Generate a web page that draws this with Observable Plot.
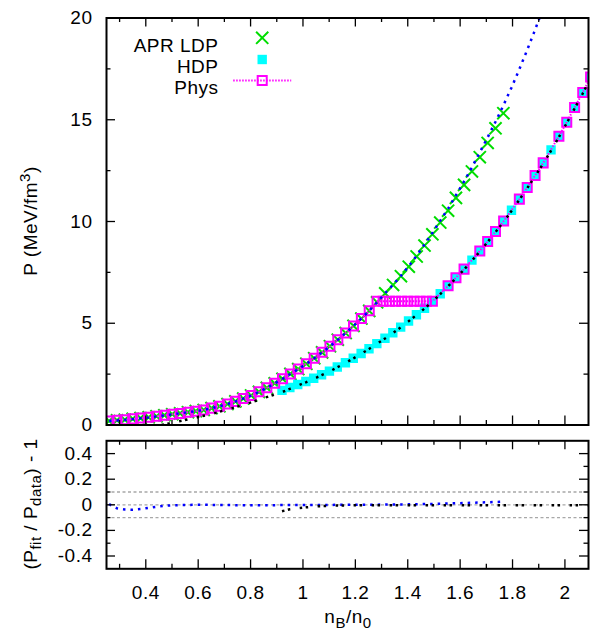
<!DOCTYPE html>
<html><head><meta charset="utf-8">
<script src="https://cdn.jsdelivr.net/npm/d3@7"></script>
<script src="https://cdn.jsdelivr.net/npm/@observablehq/plot@0.6"></script>
<style>
body{margin:0;background:#fff;}
#chart{position:relative;width:590px;height:633px;overflow:hidden;background:#fff;}
#chart svg{position:absolute;left:0;}
</style></head><body><div id="chart"></div>
<script>
// ---------- data ----------
const ldpN = [0.260,0.290,0.320,0.350,0.380,0.411,0.441,0.471,0.501,0.531,0.561,0.591,0.621,0.651,0.681,0.712,0.742,0.772,0.802,0.832,0.862,0.892,0.922,0.952,0.982,1.013,1.043,1.073,1.103,1.133,1.163,1.193,1.223,1.253,1.283,1.314,1.344,1.374,1.404,1.434,1.464,1.494,1.524,1.554,1.584,1.615,1.645,1.675,1.705,1.735,1.765];
const ldpP = [0.20,0.23,0.26,0.30,0.34,0.38,0.43,0.48,0.53,0.57,0.63,0.68,0.74,0.83,0.92,1.03,1.16,1.30,1.45,1.63,1.83,2.05,2.27,2.51,2.75,3.01,3.28,3.57,3.87,4.19,4.52,4.87,5.23,5.61,6.03,6.47,6.88,7.31,7.78,8.28,8.82,9.37,9.95,10.53,11.16,11.80,12.46,13.16,13.86,14.58,15.32];

const hdpN = [0.920,0.950,0.980,1.011,1.041,1.071,1.101,1.131,1.162,1.192,1.222,1.252,1.282,1.313,1.343,1.373,1.403,1.433,1.464,1.494,1.524,1.554,1.584,1.615,1.645,1.675,1.705,1.735,1.766,1.796,1.826,1.856,1.886,1.917,1.947,1.977,2.007,2.037,2.068,2.098];
const hdpP = [1.70,1.84,1.99,2.14,2.30,2.47,2.65,2.85,3.06,3.28,3.51,3.75,4.00,4.26,4.53,4.81,5.11,5.42,5.74,6.08,6.45,6.84,7.24,7.66,8.10,8.55,9.02,9.51,10.02,10.55,11.10,11.67,12.26,12.88,13.52,14.19,14.88,15.60,16.34,17.10];

const physN = [0.260,0.290,0.320,0.350,0.380,0.411,0.441,0.471,0.501,0.531,0.561,0.591,0.621,0.651,0.681,0.712,0.742,0.772,0.802,0.832,0.862,0.892,0.922,0.952,0.982,1.013,1.043,1.073,1.103,1.133,1.163,1.193,1.223,1.253,
  1.283,1.306,1.330,1.353,1.377,1.400,1.424,1.447,1.471,1.494,
  1.554,1.584,1.615,1.675,1.705,1.735,1.766,1.826,1.856,1.886,1.917,1.977,2.007,2.037,2.068,2.098];
const physP = [0.20,0.23,0.26,0.30,0.34,0.38,0.43,0.48,0.53,0.57,0.63,0.68,0.74,0.83,0.92,1.03,1.16,1.30,1.45,1.63,1.83,2.05,2.27,2.51,2.75,3.01,3.28,3.57,3.87,4.19,4.52,4.87,5.23,5.61,
  6.08,6.08,6.08,6.08,6.08,6.08,6.08,6.08,6.08,6.08,
  6.84,7.24,7.66,8.55,9.02,9.51,10.02,11.10,11.67,12.26,12.88,14.19,14.88,15.60,16.34,17.10];

const ldpFitN = [0.260,0.290,0.320,0.350,0.380,0.411,0.441,0.471,0.501,0.531,0.561,0.591,0.621,0.651,0.681,0.712,0.742,0.772,0.802,0.832,0.862,0.892,0.922,0.952,0.982,1.013,1.043,1.073,1.103,1.133,1.163,1.193,1.223,1.253,1.283,1.314,1.344,1.374,1.404,1.434,1.464,1.494,1.524,1.554,1.584,1.615,1.645,1.675,1.705,1.735,1.765,1.795,1.825,1.855,1.880,1.903];
const ldpFitP = [0.201,0.224,0.250,0.288,0.329,0.371,0.424,0.476,0.528,0.569,0.630,0.680,0.740,0.829,0.918,1.028,1.157,1.296,1.446,1.625,1.825,2.044,2.265,2.505,2.745,3.004,3.277,3.566,3.866,4.190,4.520,4.870,5.235,5.616,6.036,6.483,6.894,7.332,7.811,8.321,8.873,9.436,10.040,10.635,11.294,11.965,12.659,13.397,14.137,14.901,15.703,16.55,17.45,18.40,19.22,20.00];

const hdpFitN = [0.460,0.490,0.520,0.550,0.580,0.610,0.640,0.670,0.700,0.730,0.760,0.790,0.820,0.850,0.880,0.920,0.950,0.980,1.011,1.041,1.071,1.101,1.131,1.162,1.192,1.222,1.252,1.282,1.313,1.343,1.373,1.403,1.433,1.464,1.494,1.524,1.554,1.584,1.615,1.645,1.675,1.705,1.735,1.766,1.796,1.826,1.856,1.886,1.917,1.947,1.977,2.007,2.037,2.068,2.098];
const hdpFitP = [0.00,0.08,0.16,0.24,0.33,0.42,0.51,0.61,0.72,0.83,0.94,1.06,1.19,1.32,1.45,1.615,1.776,1.936,2.097,2.268,2.445,2.629,2.833,3.045,3.267,3.496,3.735,3.988,4.247,4.516,4.796,5.095,5.404,5.723,6.062,6.431,6.819,7.218,7.637,8.076,8.524,8.993,9.481,9.990,10.518,11.067,11.635,12.223,12.841,13.479,14.147,14.835,15.553,16.291,17.049];

const ldpRes = [0.005,-0.028,-0.037,-0.039,-0.033,-0.024,-0.015,-0.008,-0.004,-0.002,-0.001,0.000,0.000,-0.001,-0.002,-0.002,-0.003,-0.003,-0.003,-0.003,-0.003,-0.003,-0.002,-0.002,-0.002,-0.002,-0.001,-0.001,-0.001,0.000,0.000,0.000,0.001,0.001,0.001,0.002,0.002,0.003,0.004,0.005,0.006,0.007,0.009,0.010,0.012,0.014,0.016,0.018,0.020,0.022,0.025];
const hdpRes = [-0.050,-0.035,-0.027,-0.020,-0.014,-0.010,-0.008,-0.006,-0.005,-0.004,-0.004,-0.004,-0.003,-0.004,-0.003,-0.003,-0.004,-0.003,-0.003,-0.004,-0.003,-0.003,-0.004,-0.003,-0.003,-0.004,-0.003,-0.003,-0.004,-0.003,-0.003,-0.004,-0.003,-0.003,-0.004,-0.003,-0.003,-0.004,-0.003,-0.003];

const refLines = [-0.1, 0, 0.1];

const xMajor = [0.4,0.6,0.8,1,1.2,1.4,1.6,1.8,2];
const xMinor = [0.3,0.5,0.7,0.9,1.1,1.3,1.5,1.7,1.9];
const pMajor = [0,5,10,15,20];
const pMinor = [2.5,7.5,12.5,17.5];
const rMajor = [-0.4,-0.2,0,0.2,0.4];
const rMinor = [-0.3,-0.1,0.1,0.3];

const legendLabels = ["APR LDP","HDP","Phys"];

// ---------- build rows ----------
const zip = (a, b, k) => a.map((n, i) => ({n, [k]: b[i]}));
const ldp = zip(ldpN, ldpP, "p");
const hdp = zip(hdpN, hdpP, "p");
const phys = zip(physN, physP, "p");
const ldpFit = zip(ldpFitN, ldpFitP, "p");
const hdpFit = zip(hdpFitN, hdpFitP, "p");
const ldpR = zip(ldpN, ldpRes, "r");
const hdpR = zip(hdpN, hdpRes, "r");

const GREEN = "#00dd00", CYAN = "#00ffff", MAG = "#ff00ff", BLUE = "#0000ff";
const FONT = "'Liberation Sans', Arial, Helvetica, sans-serif";
const style = {fontFamily: FONT, fontSize: "19px", letterSpacing: "0.5px", background: "transparent", color: "#000"};

const W = 590, ML = 106, MR = 2;
const plotW = W - ML - MR;

const blueDots = {stroke: BLUE, strokeWidth: 2.5, strokeDasharray: "2.5,5", strokeLinecap: "butt", strokeLinejoin: "miter"};
const blackDots = {stroke: "#000", strokeWidth: 2.5, strokeDasharray: "2.5,3.5,2.5,9.5", strokeLinecap: "butt", strokeLinejoin: "miter"};
const magDots = {stroke: MAG, strokeWidth: 2, strokeDasharray: "1.5,1.5", strokeLinecap: "butt", strokeLinejoin: "miter"};

function frameTicks(xMaj, xMin, yMaj, yMin, plotH) {
  const maj = 9, min = 4.5, sw = 1.3;
  const o = {stroke: "#000", strokeWidth: sw};
  return [
    Plot.tickX(xMaj, {...o, x: d => d, insetTop: plotH - maj}),
    Plot.tickX(xMaj, {...o, x: d => d, insetBottom: plotH - maj}),
    Plot.tickX(xMin, {...o, x: d => d, insetTop: plotH - min}),
    Plot.tickX(xMin, {...o, x: d => d, insetBottom: plotH - min}),
    Plot.tickY(yMaj, {...o, y: d => d, insetRight: plotW - maj}),
    Plot.tickY(yMaj, {...o, y: d => d, insetLeft: plotW - maj}),
    Plot.tickY(yMin, {...o, y: d => d, insetRight: plotW - min}),
    Plot.tickY(yMin, {...o, y: d => d, insetLeft: plotW - min})
  ];
}

const lineSymbol = {draw(ctx, size) { const r = Math.sqrt(size / Math.PI); ctx.moveTo(-r, 0); ctx.lineTo(r, 0); }};
const CROSS_R = 5.6;

// ---------- top panel ----------
const topH = 435, topMT = 17.5, topMB = 10.5;
const topSvg = Plot.plot({
  width: W, height: topH,
  marginTop: topMT, marginBottom: topMB, marginLeft: ML, marginRight: MR,
  style,
  x: {domain: [0.25, 2.09], axis: null},
  y: {domain: [0, 20], ticks: pMajor, tickSize: 0, tickPadding: 14, tickFormat: d => String(d), label: null},
  marks: [
    Plot.dot(ldp, {x: "n", y: "p", symbol: "times", r: CROSS_R, stroke: GREEN, fill: "none", strokeWidth: 2, strokeLinecap: "butt", clip: true}),
    Plot.dot(hdp, {x: "n", y: "p", symbol: "square", r: 5.3, fill: CYAN, stroke: "none", clip: true}),
    Plot.line(phys, {x: "n", y: "p", ...magDots, clip: true}),
    Plot.dot(phys, {x: "n", y: "p", symbol: "square", r: 5.1, stroke: MAG, fill: "none", strokeWidth: 2, clip: true}),
    Plot.line(ldpFit, {x: "n", y: "p", ...blueDots, clip: true}),
    Plot.line(hdpFit, {x: "n", y: "p", ...blackDots, clip: true}),
    ...frameTicks(xMajor, xMinor, pMajor, pMinor, topH - topMT - topMB),
    Plot.frame({stroke: "#000", strokeWidth: 2}),
    // legend
    Plot.text([legendLabels[0]], {text: d => d, frameAnchor: "top-left", dx: 112, dy: 20, textAnchor: "end", fontSize: 19}),
    Plot.text([legendLabels[1]], {text: d => d, frameAnchor: "top-left", dx: 112, dy: 41.5, textAnchor: "end", fontSize: 19}),
    Plot.text([legendLabels[2]], {text: d => d, frameAnchor: "top-left", dx: 112, dy: 62.5, textAnchor: "end", fontSize: 19}),
    Plot.dot([legendLabels[0]], {frameAnchor: "top-left", dx: 155.7, dy: 19.8, symbol: "times", r: CROSS_R, stroke: GREEN, fill: "none", strokeWidth: 2, strokeLinecap: "butt"}),
    Plot.dot([legendLabels[1]], {frameAnchor: "top-left", dx: 155.7, dy: 41.5, symbol: "square", r: 5.3, fill: CYAN, stroke: "none"}),
    Plot.dot([legendLabels[2]], {frameAnchor: "top-left", dx: 155.7, dy: 62.5, symbol: lineSymbol, r: 29, fill: "none", ...magDots}),
    Plot.dot([legendLabels[2]], {frameAnchor: "top-left", dx: 155.7, dy: 62.5, symbol: "square", r: 5.1, stroke: MAG, fill: "none", strokeWidth: 2})
  ]
});

// ---------- bottom panel ----------
const botTop = 435, botH = 198, botMT = 5.3, botMB = 64.7;
const botSvg = Plot.plot({
  width: W, height: botH,
  marginTop: botMT, marginBottom: botMB, marginLeft: ML, marginRight: MR,
  style,
  x: {domain: [0.25, 2.09], ticks: xMajor, tickSize: 0, tickPadding: 17, tickFormat: d => String(d), label: null},
  y: {domain: [-0.5, 0.5], ticks: rMajor, tickSize: 0, tickPadding: 14, tickFormat: d => String(d), label: null},
  marks: [
    Plot.ruleY(refLines, {y: d => d, stroke: "#a8a8a8", strokeWidth: 1.3, strokeDasharray: "3,2.5"}),
    Plot.line(ldpR, {x: "n", y: "r", ...blueDots, clip: true}),
    Plot.line(hdpR, {x: "n", y: "r", ...blackDots, clip: true}),
    ...frameTicks(xMajor, xMinor, rMajor, rMinor, botH - botMT - botMB),
    Plot.frame({stroke: "#000", strokeWidth: 2})
  ]
});

topSvg.style.top = "0px";
botSvg.style.top = botTop + "px";
const chart = document.getElementById("chart");
chart.appendChild(topSvg);
chart.appendChild(botSvg);

// ---------- axis titles with sub/superscripts ----------
function addLabel(svg, x, y, rotate, parts) {
  const t = d3.select(svg).append("text")
    .attr("transform", `translate(${x},${y}) rotate(${rotate})`)
    .attr("text-anchor", "middle")
    .attr("fill", "#000")
    .style("font-family", FONT).style("font-size", "19px").style("letter-spacing", "0.5px");
  let shift = 0;
  for (const [s, kind] of parts) {
    const target = kind === "sup" ? -7 : kind === "sub" ? 4.5 : 0;
    const ts = t.append("tspan").attr("dy", target - shift).text(s);
    if (kind) ts.style("font-size", "15px");
    shift = target;
  }
}
addLabel(topSvg, 36.5, 221, -90, [["P (MeV/fm", null], ["3", "sup"], [")", null]]);
addLabel(botSvg, 36.5, 69, -90, [["(P", null], ["fit", "sub"], [" / P", null], ["data", "sub"], [") - 1", null]]);
addLabel(botSvg, 348, 188, 0, [["n", null], ["B", "sub"], ["/n", null], ["0", "sub"]]);
</script>
</body></html>
